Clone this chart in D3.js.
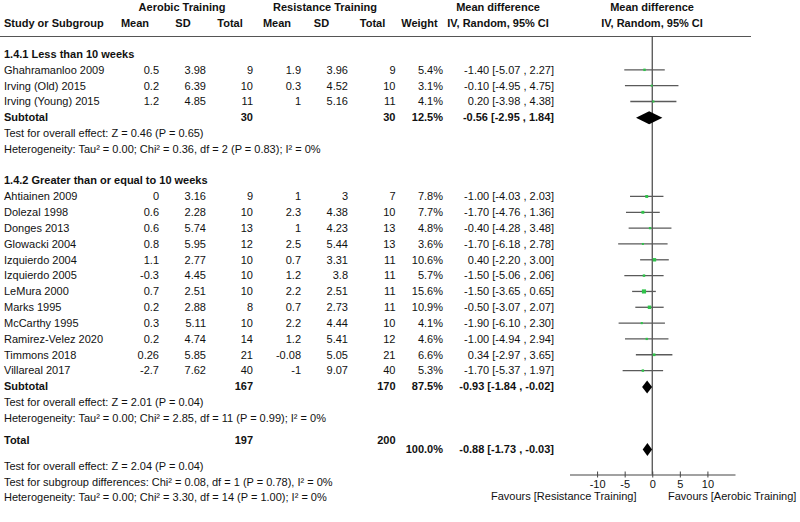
<!DOCTYPE html>
<html>
<head>
<meta charset="utf-8">
<script src="https://cdn.jsdelivr.net/npm/d3@7"></script>
<style>
  body { margin: 0; background: #fff; }
  svg { font-family: "Liberation Sans", Arial, sans-serif; font-size: 11px; }
  .b { font-weight: bold; }
</style>
</head>
<body>
<div id="chart"></div>
<script>
// subgroup 1.4.1
const names1 = ["Ghahramanloo 2009", "Irving (Old) 2015", "Irving (Young) 2015"];
const aeroMean1 = [0.5, 0.2, 1.2];
const aeroSD1 = [3.98, 6.39, 4.85];
const aeroN1 = [9, 10, 11];
const resMean1 = [1.9, 0.3, 1];
const resSD1 = [3.96, 4.52, 5.16];
const resN1 = [9, 10, 11];
const weight1 = [5.4, 3.1, 4.1];
const md1 = [-1.40, -0.10, 0.20];
const lo1 = [-5.07, -4.95, -3.98];
const hi1 = [2.27, 4.75, 4.38];

// subgroup 1.4.2
const names2 = ["Ahtiainen 2009", "Dolezal 1998", "Donges 2013", "Glowacki 2004", "Izquierdo 2004",
  "Izquierdo 2005", "LeMura 2000", "Marks 1995", "McCarthy 1995", "Ramirez-Velez 2020",
  "Timmons 2018", "Villareal 2017"];
const aeroMean2 = [0, 0.6, 0.6, 0.8, 1.1, -0.3, 0.7, 0.2, 0.3, 0.2, 0.26, -2.7];
const aeroSD2 = [3.16, 2.28, 5.74, 5.95, 2.77, 4.45, 2.51, 2.88, 5.11, 4.74, 5.85, 7.62];
const aeroN2 = [9, 10, 13, 12, 10, 10, 10, 8, 10, 14, 21, 40];
const resMean2 = [1, 2.3, 1, 2.5, 0.7, 1.2, 2.2, 0.7, 2.2, 1.2, -0.08, -1];
const resSD2 = [3, 4.38, 4.23, 5.44, 3.31, 3.8, 2.51, 2.73, 4.44, 5.41, 5.05, 9.07];
const resN2 = [7, 10, 13, 13, 11, 11, 11, 11, 10, 12, 21, 40];
const weight2 = [7.8, 7.7, 4.8, 3.6, 10.6, 5.7, 15.6, 10.9, 4.1, 4.6, 6.6, 5.3];
const md2 = [-1.00, -1.70, -0.40, -1.70, 0.40, -1.50, -1.50, -0.50, -1.90, -1.00, 0.34, -1.70];
const lo2 = [-4.03, -4.76, -4.28, -6.18, -2.20, -5.06, -3.65, -3.07, -6.10, -4.94, -2.97, -5.37];
const hi2 = [2.03, 1.36, 3.48, 2.78, 3.00, 2.06, 0.65, 2.07, 2.30, 2.94, 3.65, 1.97];

// pooled rows: subtotal 1, subtotal 2, total
const pooledLabels = ["Subtotal", "Subtotal", "Total"];
const pooledAeroN = [30, 167, 197];
const pooledResN = [30, 170, 200];
const pooledWeight = [12.5, 87.5, 100.0];
const pooledMD = [-0.56, -0.93, -0.88];
const pooledLo = [-2.95, -1.84, -1.73];
const pooledHi = [1.84, -0.02, -0.03];

const groupTitles = ["1.4.1 Less than 10 weeks", "1.4.2 Greater than or equal to 10 weeks"];
const groupTests = [
  ["Test for overall effect: Z = 0.46 (P = 0.65)",
   "Heterogeneity: Tau\u00b2 = 0.00; Chi\u00b2 = 0.36, df = 2 (P = 0.83); I\u00b2 = 0%"],
  ["Test for overall effect: Z = 2.01 (P = 0.04)",
   "Heterogeneity: Tau\u00b2 = 0.00; Chi\u00b2 = 2.85, df = 11 (P = 0.99); I\u00b2 = 0%"]
];
const totalTests = [
  "Test for overall effect: Z = 2.04 (P = 0.04)",
  "Test for subgroup differences: Chi\u00b2 = 0.08, df = 1 (P = 0.78), I\u00b2 = 0%",
  "Heterogeneity: Tau\u00b2 = 0.00; Chi\u00b2 = 3.30, df = 14 (P = 1.00); I\u00b2 = 0%"
];
const axisTicks = [-10, -5, 0, 5, 10];
const favourLeft = "Favours [Resistance Training]";
const favourRight = "Favours [Aerobic Training]";

const width = 800, height = 522;
const svg = d3.select("#chart").append("svg")
  .attr("width", width)
  .attr("height", height);

// row index -> y
const y = d3.scaleLinear().domain([0, 1]).range([54, 54 + 15.83]);
const x = d3.scaleLinear().domain([-15, 15]).range([569.5, 735]);

// column right edges
const col = {
  name: 4, aeroMean: 159, aeroSD: 206, aeroN: 253,
  resMean: 301, resSD: 348, resN: 395.5, weight: 443, ci: 554
};

// plain hyphen minus, like the original
const fmt2 = v => v.toFixed(2);
const ciText = (m, l, h) => `${fmt2(m)} [${fmt2(l)} , ${fmt2(h)}]`;

function text(x0, y0, s, anchor, bold) {
  return svg.append("text")
    .attr("x", x0).attr("y", y0).attr("dy", "0.35em")
    .attr("text-anchor", anchor || "start")
    .attr("class", bold ? "b" : null)
    .attr("fill", "#111")
    .text(s);
}

// headers
text(182, 7, "Aerobic Training", "middle", true);
text(325, 7, "Resistance Training", "middle", true);
text(498, 7, "Mean difference", "middle", true);
text(652, 7, "Mean difference", "middle", true);
text(4, 23, "Study or Subgroup", "start", true);
text(135, 23, "Mean", "middle", true);
text(183, 23, "SD", "middle", true);
text(230, 23, "Total", "middle", true);
text(277, 23, "Mean", "middle", true);
text(321.5, 23, "SD", "middle", true);
text(372.5, 23, "Total", "middle", true);
text(419.5, 23, "Weight", "middle", true);
text(498, 23, "IV, Random, 95% CI", "middle", true);
text(652, 23, "IV, Random, 95% CI", "middle", true);

svg.append("line")
  .attr("x1", 0).attr("x2", 751)
  .attr("y1", 36.5).attr("y2", 36.5)
  .attr("stroke", "#555").attr("stroke-width", 1);

// zero line
svg.append("line")
  .attr("x1", x(0)).attr("x2", x(0))
  .attr("y1", 36.5).attr("y2", 474.5)
  .attr("stroke", "#444").attr("stroke-width", 1.2);

const groups = [
  {start: 0, names: names1, am: aeroMean1, asd: aeroSD1, an: aeroN1, rm: resMean1, rsd: resSD1, rn: resN1,
   w: weight1, md: md1, lo: lo1, hi: hi1},
  {start: 8, names: names2, am: aeroMean2, asd: aeroSD2, an: aeroN2, rm: resMean2, rsd: resSD2, rn: resN2,
   w: weight2, md: md2, lo: lo2, hi: hi2}
];

const ciG = svg.append("g");
const markG = svg.append("g");

function diamond(i, yc) {
  const h = 6.5;
  const pts = [[x(pooledLo[i]), yc], [x(pooledMD[i]), yc - h], [x(pooledHi[i]), yc], [x(pooledMD[i]), yc + h]];
  svg.append("path")
    .attr("d", d3.line()(pts) + "Z")
    .attr("fill", "#000");
}

groups.forEach((g, gi) => {
  text(col.name, y(g.start), groupTitles[gi], "start", true);
  g.names.forEach((n, i) => {
    const yy = y(g.start + 1 + i);
    text(col.name, yy, n);
    text(col.aeroMean, yy, String(g.am[i]), "end");
    text(col.aeroSD, yy, String(g.asd[i]), "end");
    text(col.aeroN, yy, String(g.an[i]), "end");
    text(col.resMean, yy, String(g.rm[i]), "end");
    text(col.resSD, yy, String(g.rsd[i]), "end");
    text(col.resN, yy, String(g.rn[i]), "end");
    text(col.weight, yy, g.w[i].toFixed(1) + "%", "end");
    text(col.ci, yy, ciText(g.md[i], g.lo[i], g.hi[i]), "end");

    ciG.append("line")
      .attr("x1", x(g.lo[i])).attr("x2", x(g.hi[i]))
      .attr("y1", yy).attr("y2", yy)
      .attr("stroke", "#5a5a5a").attr("stroke-width", 1.3);
    const s = Math.max(2, 1.05 * Math.sqrt(g.w[i]));
    markG.append("rect")
      .attr("x", x(g.md[i]) - s / 2).attr("y", yy - s / 2)
      .attr("width", s).attr("height", s)
      .attr("fill", "#2fc34a");
  });
  const sy = y(g.start + 1 + g.names.length);
  text(col.name, sy, pooledLabels[gi], "start", true);
  text(col.aeroN, sy, String(pooledAeroN[gi]), "end", true);
  text(col.resN, sy, String(pooledResN[gi]), "end", true);
  text(col.weight, sy, pooledWeight[gi].toFixed(1) + "%", "end", true);
  text(col.ci, sy, ciText(pooledMD[gi], pooledLo[gi], pooledHi[gi]), "end", true);
  diamond(gi, sy + 0.5);
  groupTests[gi].forEach((t, k) => text(col.name, sy + (k + 1) * 15.83, t));
});

// total row
const ty = 440, ty2 = 449.5;
text(col.name, ty, pooledLabels[2], "start", true);
text(col.aeroN, ty, String(pooledAeroN[2]), "end", true);
text(col.resN, ty, String(pooledResN[2]), "end", true);
text(col.weight, ty2, pooledWeight[2].toFixed(1) + "%", "end", true);
text(col.ci, ty2, ciText(pooledMD[2], pooledLo[2], pooledHi[2]), "end", true);
diamond(2, ty2);
totalTests.forEach((t, k) => text(col.name, 466 + k * 15.7, t));

// axis
const axisG = svg.append("g")
  .attr("transform", "translate(0,474.5)")
  .call(d3.axisBottom(x).tickValues(axisTicks).tickFormat(d => String(d))
    .tickSizeInner(3).tickSizeOuter(0).tickPadding(3));
axisG.select(".domain").attr("stroke", "#444").attr("stroke-width", 1.2);
axisG.selectAll(".tick line").attr("y1", -3).attr("stroke", "#444");
axisG.selectAll(".tick text")
  .attr("fill", "#111")
  .style("font-family", "'Liberation Sans', Arial, sans-serif")
  .style("font-size", "11px");

text(636.5, 496.5, favourLeft, "end");
text(668, 496.5, favourRight, "start");
</script>
</body>
</html>
